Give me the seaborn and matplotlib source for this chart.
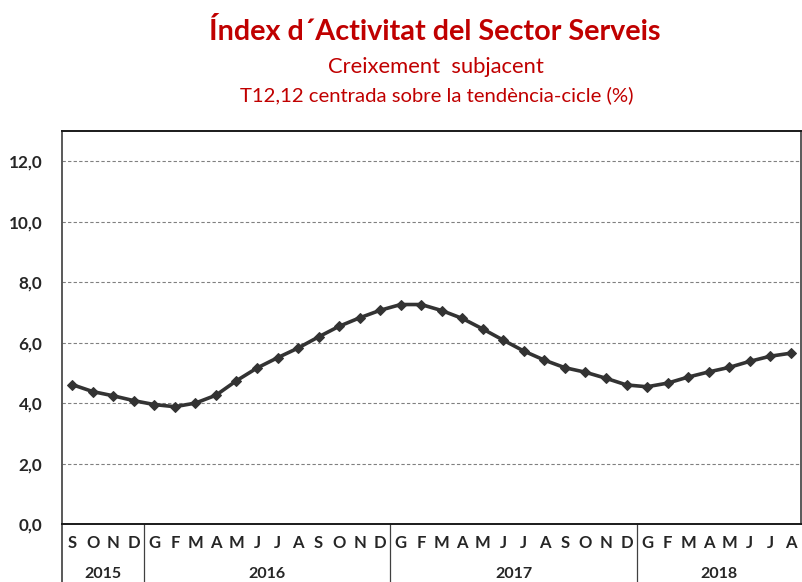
import matplotlib
matplotlib.use("Agg")
import matplotlib.pyplot as plt
import matplotlib.transforms as mtransforms
import pandas as pd
import seaborn as sns

# months shown on the x axis (Catalan initials)
months = ["S", "O", "N", "D",
          "G", "F", "M", "A", "M", "J", "J", "A", "S", "O", "N", "D",
          "G", "F", "M", "A", "M", "J", "J", "A", "S", "O", "N", "D",
          "G", "F", "M", "A", "M", "J", "J", "A"]
years = ["2015", "2016", "2017", "2018"]
months_per_year = [4, 12, 12, 8]

# T12,12 growth (%)
values = [4.61, 4.38, 4.24, 4.08,
          3.95, 3.88, 4.00, 4.26, 4.74, 5.16, 5.50, 5.82, 6.19, 6.54, 6.82, 7.07,
          7.26, 7.26, 7.06, 6.80, 6.45, 6.08, 5.72, 5.42, 5.17, 5.02, 4.82, 4.60,
          4.54, 4.66, 4.86, 5.03, 5.18, 5.38, 5.55, 5.65]

df = pd.DataFrame({"pos": range(len(values)), "value": values})

sns.set_style("white")
plt.rcParams["font.family"] = ["Lato", "DejaVu Sans"]

W, H = 803, 582
fig = plt.figure(figsize=(W / 100, H / 100), dpi=100)
ax = fig.add_axes([62 / W, 1 - 524 / H, (801 - 62) / W, (524 - 131) / H])

sns.lineplot(data=df, x="pos", y="value", ax=ax, color="#333333", lw=2.6,
             marker="D", markersize=5.5, markeredgecolor="#333333")

ax.set_xlim(-0.5, len(values) - 0.5)
ax.set_ylim(0, 13)
yt = list(range(0, 13, 2))
ax.set_yticks(yt)
ax.set_yticklabels([f"{v:.1f}".replace(".", ",") for v in yt],
                   fontweight="bold", fontsize=12.3)
ax.yaxis.grid(True, ls=(0, (3, 2)), color="#808080", lw=0.8)
ax.tick_params(axis="y", length=0, pad=14)

ax.set_xticks(df["pos"])
ax.set_xticklabels(months, fontweight="bold", fontsize=12)
ax.tick_params(axis="x", length=0, pad=8)
ax.set_xlabel("")
ax.set_ylabel("")

for side in ["left", "right"]:
    ax.spines[side].set_color("#595959")
    ax.spines[side].set_linewidth(1.4)
for side in ["top", "bottom"]:
    ax.spines[side].set_color("#1a1a1a")
    ax.spines[side].set_linewidth(1.4)

# year labels and separators below the axis
trans = mtransforms.blended_transform_factory(ax.transData, ax.transAxes)
low = -(H - 524) / (524 - 131)
start = -0.5
ax.plot([start, start], [0, low], transform=trans, color="#595959",
        lw=1.4, clip_on=False)
for year, n in zip(years, months_per_year):
    end = start + n
    ax.text((start + end) / 2, -0.128, year, transform=trans, ha="center",
            va="center", fontweight="bold", fontsize=11.5)
    if end < len(values) - 0.5:
        ax.plot([end, end], [0, low], transform=trans, color="#404040",
                lw=0.9, clip_on=False)
    start = end

red = "#C00000"
fig.text(435 / W, 1 - 32 / H, "Índex d´Activitat del Sector Serveis",
         ha="center", va="center", color=red, fontweight="bold", fontsize=20.7)
fig.text(436 / W, 1 - 67 / H, "Creixement  subjacent",
         ha="center", va="center", color=red, fontsize=15.8)
fig.text(437 / W, 1 - 95 / H, "T12,12 centrada sobre la tendència-cicle (%)",
         ha="center", va="center", color=red, fontsize=14.6)

fig.savefig("out.png", dpi=100)
